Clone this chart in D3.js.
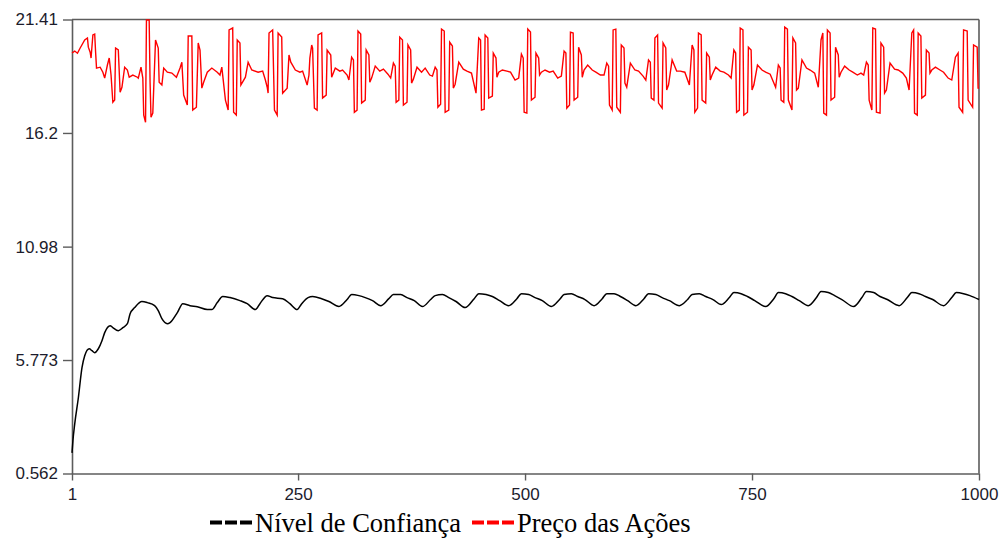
<!DOCTYPE html>
<html>
<head>
<meta charset="utf-8">
<script src="https://cdn.jsdelivr.net/npm/d3@7"></script>
<style>
  html, body { margin: 0; padding: 0; background: #ffffff; }
  svg { display: block; }
</style>
</head>
<body>
<svg id="chart" width="1003" height="538"></svg>
<script>
// Axis ticks
const xTicks = [1, 250, 500, 750, 1000];
const yTicks = [0.562, 5.773, 10.98, 16.2, 21.41];
const yTickLabels = ["0.562", "5.773", "10.98", "16.2", "21.41"];
const seriesNames = ["Nível de Confiança", "Preço das Ações"];

// Nível de Confiança: [time step, value]
const confidenceKnots = [
  [1,1.51],[2,2.06],[4,2.84],[8,4.04],[12,5.42],[15,5.97],[20,6.29],[23,6.20],[26,6.11],[30,6.29],
  [34,6.66],[37,7.03],[43,7.35],[46,7.26],[52,7.12],[57,7.26],[62,7.44],[65,7.90],[70,8.18],[78,8.46],
  [84,8.41],[92,8.27],[96,8.04],[100,7.67],[106,7.44],[109,7.49],[117,7.95],[123,8.36],[131,8.27],[139,8.22],
  [150,8.09],[155,8.09],[161,8.41],[167,8.69],[175,8.64],[186,8.50],[194,8.36],[203,8.09],[208,8.36],[216,8.73],
  [222,8.64],[233,8.59],[241,8.36],[249,8.09],[254,8.36],[261,8.64],[266,8.69],[276,8.59],[284,8.46],[295,8.23],
  [304,8.55],[309,8.78],[317,8.73],[324,8.64],[332,8.50],[341,8.27],
  [350,8.59],[355,8.78],[363,8.78],[370,8.64],[378,8.50],[387,8.23],
  [396,8.55],[401,8.73],[409,8.78],[416,8.64],[424,8.46],[434,8.18],
  [444,8.59],[449,8.82],[457,8.78],[464,8.69],[472,8.50],[482,8.27],
  [491,8.59],[496,8.82],[504,8.78],[511,8.64],[519,8.50],[529,8.23],
  [538,8.55],[543,8.78],[551,8.82],[558,8.69],[566,8.55],[576,8.27],
  [585,8.59],[590,8.82],[598,8.82],[605,8.69],[613,8.50],[622,8.27],
  [631,8.59],[636,8.82],[644,8.78],[651,8.64],[659,8.50],[670,8.27],
  [679,8.55],[684,8.78],[692,8.82],[699,8.69],[707,8.55],[716,8.32],
  [725,8.64],[730,8.87],[738,8.82],[745,8.69],[753,8.50],[765,8.23],
  [774,8.59],[779,8.87],[787,8.82],[794,8.69],[802,8.50],[812,8.27],
  [821,8.64],[826,8.92],[834,8.87],[841,8.73],[849,8.55],[862,8.23],
  [871,8.64],[876,8.92],[884,8.87],[891,8.69],[899,8.55],[912,8.27],
  [921,8.64],[926,8.87],[934,8.82],[941,8.69],[949,8.55],[961,8.27],
  [970,8.64],[975,8.87],[983,8.82],[990,8.73],[1000,8.55]
];

// Preço das Ações: [time step, value]
const priceKnots = [
  [1,19.87],[4,19.96],[7,19.86],[10,20.10],[15,20.47],[18,20.56],[19,20.14],[21,19.91],[22,19.64],[24,20.70],
  [26,20.74],[27,19.91],[28,19.18],[32,19.22],[35,18.99],[37,18.72],[40,19.32],[42,19.64],[44,18.86],[46,17.61],
  [48,17.71],[49,20.10],[52,20.01],[54,18.07],[56,18.30],[59,19.22],[62,19.09],[64,18.76],[68,18.86],[73,18.76],
  [74,18.72],[77,19.22],[79,18.72],[80,17.02],[82,16.69],[83,21.39],[86,21.39],[87,18.53],[88,16.92],[90,17.11],
  [93,20.47],[96,20.10],[97,18.53],[100,18.40],[102,19.18],[106,18.99],[111,18.95],[116,18.76],
  [120,19.18],[122,19.45],[124,17.94],[128,17.48],[129,20.65],[133,20.65],[134,17.25],[138,17.38],[140,20.33],[142,20.01],
  [144,18.26],[146,18.53],[150,18.99],[155,19.18],[161,18.99],
  [164,18.86],[166,19.22],[170,17.71],[173,17.25],[174,20.93],[178,21.02],[179,17.15],[182,17.02],[183,20.47],[186,20.33],
  [187,18.40],[192,18.76],[195,19.45],[199,19.09],[206,18.99],[211,19.04],
  [214,18.63],[216,18.30],[217,18.03],[218,20.79],[222,20.93],[224,17.25],[227,17.02],[228,20.79],[232,20.60],[233,18.03],
  [238,18.26],[240,19.78],[242,19.45],[247,19.09],[252,18.99],[255,19.04],
  [260,18.40],[262,18.86],[263,19.64],[265,20.24],[266,20.10],[268,17.34],[271,17.25],[272,20.70],[276,20.79],[277,17.80],
  [281,17.94],[282,20.01],[286,19.78],[287,18.76],[291,19.18],[296,19.04],[299,19.09],[304,18.86],
  [306,18.63],[309,19.68],[311,19.55],[312,17.15],[315,17.25],[316,20.88],[319,20.74],[320,17.57],[324,17.71],[325,20.01],
  [328,19.78],[329,18.53],[331,18.72],[335,19.27],[340,19.04],[344,19.13],[349,18.90],
  [352,18.72],[355,19.41],[357,19.27],[358,17.61],[361,17.71],[362,20.60],[365,20.47],[366,17.48],[370,17.61],[371,20.24],
  [374,20.01],[375,18.49],[377,18.67],[381,19.22],[386,18.99],[390,19.18],[395,18.86],
  [398,18.81],[401,19.22],[403,19.09],[404,17.38],[407,17.52],[408,20.97],[411,20.88],[412,17.15],[416,17.25],[417,20.37],
  [420,20.19],[421,18.26],[423,18.44],[427,19.45],[432,19.13],[436,19.04],[441,18.95],
  [446,18.03],[449,20.56],[451,20.47],[452,17.25],[455,17.29],[456,20.70],[459,20.56],[460,17.80],[464,17.89],[465,19.87],
  [468,19.64],[469,18.76],[471,18.99],[475,19.09],[480,19.04],[484,18.99],[489,18.63],
  [493,18.72],[496,19.82],[498,19.64],[499,17.15],[502,17.11],[503,20.97],[506,20.83],[507,17.71],[511,17.84],[512,19.87],
  [515,19.64],[516,18.86],[518,18.99],[522,19.09],[527,18.99],[531,19.04],[536,18.72],
  [540,18.81],[543,19.96],[545,19.87],[546,17.34],[549,17.48],[550,20.83],[553,20.79],[554,17.71],[558,17.84],[559,20.14],
  [562,19.78],[563,18.76],[565,19.09],[569,19.32],[574,19.09],[578,18.99],[583,18.86],
  [587,18.86],[590,19.41],[592,19.27],[593,17.48],[596,17.25],[597,20.93],[600,20.97],[601,17.38],[605,17.15],[606,20.24],
  [609,20.10],[610,18.49],[612,18.30],[616,19.41],[621,19.09],[625,19.04],[630,18.81],
  [633,18.63],[636,19.55],[638,19.45],[639,17.80],[642,17.71],[643,20.56],[646,20.70],[647,17.57],[651,17.34],[652,20.33],
  [655,20.10],[656,18.17],[658,18.40],[662,19.55],[667,19.04],[671,19.04],[676,18.99],
  [681,18.40],[684,20.24],[686,20.01],[687,17.15],[690,17.34],[691,20.79],[694,20.70],[695,17.71],[699,17.57],[700,19.87],
  [703,19.68],[704,18.63],[706,18.86],[710,19.22],[715,19.04],[719,18.99],[724,18.86],
  [727,18.72],[730,20.01],[732,19.87],[733,17.15],[736,17.25],[737,21.02],[740,20.93],[741,17.02],[745,17.15],[746,20.14],
  [749,20.01],[750,18.17],[752,18.40],[756,19.32],[761,19.09],[765,18.99],[770,18.90],
  [776,18.30],[779,19.32],[781,19.18],[782,17.71],[785,17.61],[786,21.06],[789,20.97],[790,17.71],[794,17.25],[795,20.56],
  [798,20.33],[799,18.17],[801,18.26],[805,19.55],[810,19.18],[814,19.09],[819,18.95],
  [823,18.30],[826,20.47],[828,20.79],[829,17.11],[832,17.02],[833,20.93],[836,20.79],[837,17.71],[841,17.84],[842,20.14],
  [845,19.78],[846,18.76],[848,18.99],[852,19.27],[857,19.09],[861,18.99],[866,18.86],[870,18.95],
  [873,18.86],[876,19.45],[878,19.32],[879,17.71],[882,17.25],[883,21.02],[886,20.97],[887,17.15],[891,17.11],[892,20.33],
  [895,20.14],[896,18.03],[898,18.17],[902,19.41],[907,19.13],[911,19.09],[916,18.95],[920,18.72],
  [923,18.17],[926,20.79],[928,20.93],[929,17.11],[932,17.02],[933,20.79],[936,20.65],[937,17.80],[941,17.94],[942,20.01],
  [945,19.87],[946,18.95],[948,19.09],[952,19.22],[957,19.09],[961,18.99],[966,18.72],
  [970,18.63],[974,19.68],[977,19.87],[978,17.38],[982,17.15],[983,20.93],[987,20.88],[988,17.71],[993,17.38],[994,20.24],
  [998,20.14],[999,18.26],[1000,18.26]
];

const seriesColors = ["#000000", "#ff0000"];

const svg = d3.select("#chart");
const plot = { left: 72, right: 979, top: 19.5, bottom: 473.5 };

const x = d3.scaleLinear().domain([1, 1000]).range([plot.left, plot.right]);
const y = d3.scaleLinear().domain([0.562, 21.41]).range([plot.bottom, plot.top]);

const axisColor = "#5c5c5c";
const labelFont = "'Liberation Sans', Arial, sans-serif";

// Frame: top and right edges
svg.append("line")
  .attr("x1", plot.left).attr("x2", plot.right)
  .attr("y1", plot.top).attr("y2", plot.top)
  .attr("stroke", axisColor).attr("stroke-width", 1.6);
svg.append("line")
  .attr("x1", plot.right).attr("x2", plot.right)
  .attr("y1", plot.top).attr("y2", plot.bottom)
  .attr("stroke", axisColor).attr("stroke-width", 1.6);

// Left axis
const gy = svg.append("g")
  .attr("transform", `translate(${plot.left},0)`)
  .call(d3.axisLeft(y).tickValues(yTicks)
    .tickFormat((d, i) => yTickLabels[i])
    .tickSize(9).tickSizeOuter(0).tickPadding(5));

// Bottom axis
const gx = svg.append("g")
  .attr("transform", `translate(0,${plot.bottom})`)
  .call(d3.axisBottom(x).tickValues(xTicks)
    .tickFormat(d3.format("d"))
    .tickSize(7).tickSizeOuter(0).tickPadding(7));

[gx, gy].forEach(g => {
  g.select(".domain").attr("stroke", axisColor).attr("stroke-width", 1.6);
  g.selectAll(".tick line").attr("stroke", axisColor).attr("stroke-width", 1.4);
  g.selectAll(".tick text")
    .attr("fill", "#1c1c2c")
    .style("font-family", labelFont)
    .style("font-size", "17px");
});

// Series lines
const priceLine = d3.line()
  .x(d => x(d[0])).y(d => y(d[1]))
  .curve(d3.curveLinear);

const confidenceLine = d3.line()
  .x(d => x(d[0])).y(d => y(d[1]))
  .curve(d3.curveMonotoneX);

svg.append("path")
  .datum(confidenceKnots)
  .attr("fill", "none")
  .attr("stroke", seriesColors[0])
  .attr("stroke-width", 1.5)
  .attr("stroke-linejoin", "round")
  .attr("d", confidenceLine);

svg.append("path")
  .datum(priceKnots)
  .attr("fill", "none")
  .attr("stroke", seriesColors[1])
  .attr("stroke-width", 1.4)
  .attr("stroke-linejoin", "miter")
  .attr("d", priceLine);

// Legend
const legendFont = "'Liberation Serif', 'Times New Roman', serif";
const legendItems = [
  { name: seriesNames[0], color: seriesColors[0], x0: 210 },
  { name: seriesNames[1], color: seriesColors[1], x0: 472 }
];
const legend = svg.append("g");
legendItems.forEach(item => {
  legend.append("line")
    .attr("x1", item.x0).attr("x2", item.x0 + 42)
    .attr("y1", 522.5).attr("y2", 522.5)
    .attr("stroke", item.color)
    .attr("stroke-width", 4)
    .attr("stroke-dasharray", "12,3");
  legend.append("text")
    .attr("x", item.x0 + 45)
    .attr("y", 531.5)
    .attr("fill", "#000")
    .style("font-family", legendFont)
    .style("font-size", "26.5px")
    .text(item.name);
});
</script>
</body>
</html>
